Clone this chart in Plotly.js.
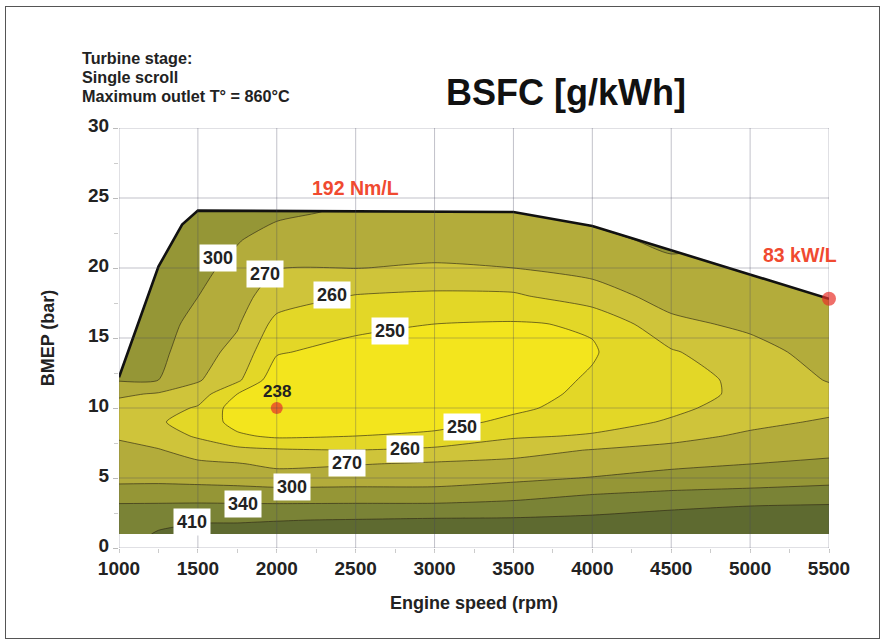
<!DOCTYPE html>
<html><head><meta charset="utf-8">
<script src="https://cdn.plot.ly/plotly-3.0.1.min.js"></script>
<style>
html,body{margin:0;padding:0;background:#fff;}
#chart{position:absolute;left:0;top:0;width:883px;height:643px;}
#frame{position:absolute;left:5px;top:6px;width:873px;height:631px;border:1.5px solid #555;pointer-events:none;}
</style></head><body>
<div id="chart"></div><div id="frame"></div>
<script>
// Engine speed (rpm) columns and BMEP (bar) rows of the BSFC map
const speeds = [1000,1250,1500,1750,2000,2500,3000,3500,4000,4500,5000,5500];
const bmep   = [1,2,3,4,5,6,7,8,9,10,11,12,14,16,18,20,22,24,26];
// BSFC (g/kWh) read along each speed column, bottom to top
const bsfc1000 = [385,370,348,318,290,285,277,269,264,266,275,303,330,340,350,355,360,365,370];
const bsfc1250 = [420,395,350,316,292,280,272,264,261,264,269,300,310,315,320,325,338,345,350];
const bsfc1500 = [440,405,352,315,290,276,265,259,256,259,265,273,282,291,300.5,312,320,335,345];
const bsfc1750 = [445,405,351,313,288,272,262.5,251.5,246,244,250,262,267,273,281,290,303,325,335];
const bsfc2000 = [450,408,350,312,282,268,261,248,241,238,239,242,251,257,265,271,285,310,330];
const bsfc2500 = [465,415,352,311,286,269.5,260,250,244,241,240,241,245,253,259.5,270.5,281,294,308];
const bsfc3000 = [480,425,352,312,285,274,262,252,246,243,242,242,245,250,258,269,283,297,310];
const bsfc3500 = [490,428,360,322,293,276,267,258.5,252,248,246,245,246,249,258.5,270,285,300,315];
const bsfc4000 = [500,440,380,335,302,283,271,261,256,253.5,252,251,249,251,266,278,293,310,320];
const bsfc4500 = [510,455,400,345,315,293,277,267.5,261,258,256.5,256,259,268,280,294,308,320,330];
const bsfc5000 = [520,465,410,352,322,300,284,274,268,264,262,262.5,267,275,283,291,300,310,320];
const bsfc5500 = [530,475,420,365,325,308,292,281,273,268,267,272,280,287,294,300,310,320,330];
const bsfcColumns = [bsfc1000,bsfc1250,bsfc1500,bsfc1750,bsfc2000,bsfc2500,bsfc3000,bsfc3500,bsfc4000,bsfc4500,bsfc5000,bsfc5500];
// contour levels drawn on the map (first and last are band bounds)
const levels = [238,250,260,270,300,340,410,540];
// full-load curve
const fullLoadSpeed = [1000,1250,1400,1500,3500,4000,5500];
const fullLoadBmep  = [12.2,20.1,23.1,24.1,24.0,23.0,17.8];
// highlighted points
const pointSpeed = [2000,5500];
const pointBmep  = [10,17.8];
const minText = '238';
// iso-line labels
const isoText  = ['300','270','260','250','250','260','270','300','340','410'];
const isoSpeed = [1628,1925,2350,2718,3174,2813,2445,2096,1786,1462];
const isoBmep  = [20.7,19.6,18.07,15.5,8.64,7.07,6.07,4.36,3.14,1.86];
const xTicks = [1000,1500,2000,2500,3000,3500,4000,4500,5000,5500];
const yTicks = [0,5,10,15,20,25,30];
const xRange = [1000,5500], yRange = [0,30];

const FONT = 'Liberation Sans, Arial, Helvetica, sans-serif';
function toIndex(v){
  for(let k=0;k<levels.length-1;k++){
    if(v<levels[k+1]) return k + (v-levels[k])/(levels[k+1]-levels[k]);
  }
  return levels.length-1;
}
const z = bmep.map((b,i)=>speeds.map((s,j)=>toIndex(bsfcColumns[j][i])));

const traces = [
  {type:'contour', x:speeds, y:bmep, z:z, autocontour:false,
   contours:{start:1,end:6,size:1,coloring:'fill',showlines:true},
   line:{color:'rgba(45,40,20,0.8)',width:0.8,smoothing:0.6},
   colorscale:[[0,'#f3e51d'],[1/6,'#e3d727'],[2/6,'#cfc43a'],[3/6,'#b3ac3b'],[4/6,'#959636'],[5/6,'#7a8336'],[1,'#5e6a30']],
   showscale:false, hoverinfo:'skip'},
  {type:'scatter', mode:'lines', x:fullLoadSpeed.concat([xRange[1],xRange[0]]),
   y:fullLoadBmep.concat([yRange[1],yRange[1]]), fill:'toself', fillcolor:'#ffffff',
   line:{width:0}, hoverinfo:'skip'},
  {type:'scatter', mode:'lines', x:fullLoadSpeed, y:fullLoadBmep, line:{color:'#111',width:2.6}, hoverinfo:'skip'},
  {type:'scatter', mode:'markers', x:pointSpeed, y:pointBmep, cliponaxis:false,
   marker:{color:'#e8302a',size:[12,14],line:{width:0}}, hoverinfo:'skip'}
];

const shapes = [];
xTicks.forEach(v=>shapes.push({type:'line',layer:'above',xref:'x',yref:'y',x0:v,x1:v,y0:yRange[0],y1:yRange[1],line:{color:'rgba(70,70,95,0.33)',width:1}}));
yTicks.forEach(v=>shapes.push({type:'line',layer:'above',xref:'x',yref:'y',x0:xRange[0],x1:xRange[1],y0:v,y1:v,line:{color:'rgba(70,70,95,0.33)',width:1}}));

const annotations = [];
isoText.forEach((t,i)=>annotations.push({x:isoSpeed[i],y:isoBmep[i],xref:'x',yref:'y',text:t,showarrow:false,
  bgcolor:'#ffffff',borderpad:3,font:{family:FONT,size:18,weight:'bold',color:'#222'}}));
annotations.push({x:pointSpeed[0],y:pointBmep[0],xref:'x',yref:'y',yshift:17,text:minText,showarrow:false,
  font:{family:FONT,size:17,weight:'bold',color:'#222'}});
annotations.push({x:2496,y:25.7,xref:'x',yref:'y',text:'192 Nm/L',showarrow:false,
  font:{family:FONT,size:19.5,weight:'bold',color:'#f04a30'}});
annotations.push({x:5316,y:20.9,xref:'x',yref:'y',text:'83 kW/L',showarrow:false,
  font:{family:FONT,size:19.5,weight:'bold',color:'#f04a30'}});
['Turbine stage:','Single scroll','Maximum outlet T° = 860°C'].forEach((t,i)=>annotations.push({
  xref:'paper',yref:'paper',x:(80-119)/710,xanchor:'left',y:(548-(58+i*19))/420,yanchor:'middle',
  text:t,showarrow:false,font:{family:FONT,size:16.2,weight:'bold',color:'#222'}}));

const layout = {
  width:883,height:643,margin:{l:119,r:54,t:128,b:95},
  paper_bgcolor:'#fff',plot_bgcolor:'#fff',showlegend:false,
  title:{text:'BSFC [g/kWh]',font:{family:FONT,size:36,weight:'bold',color:'#111'},
    xref:'container',yref:'container',x:566/883,xanchor:'center',y:1-92/643,yanchor:'middle'},
  xaxis:{range:xRange,tickvals:xTicks,showgrid:false,zeroline:false,showline:false,
    ticks:'outside',ticklen:1,tickcolor:'#bbb',ticklabelstandoff:2,
    minor:{dtick:250,ticks:'outside',ticklen:4,tickcolor:'#ccc',showgrid:false},
    tickfont:{family:FONT,size:19,weight:'bold',color:'#222'},
    title:{text:'Engine speed (rpm)',standoff:18,font:{family:FONT,size:18,weight:'bold',color:'#222'}}},
  yaxis:{range:yRange,tickvals:yTicks,showgrid:false,zeroline:false,showline:false,
    ticks:'outside',ticklen:5,tickcolor:'#bbb',ticklabelshift:-3,
    minor:{dtick:2.5,ticks:'outside',ticklen:4,tickcolor:'#ccc',showgrid:false},
    tickfont:{family:FONT,size:19,weight:'bold',color:'#222'},
    title:{text:'BMEP (bar)',standoff:28,font:{family:FONT,size:18,weight:'bold',color:'#222'}}},
  shapes:shapes, annotations:annotations
};
Plotly.newPlot('chart',traces,layout,{staticPlot:true});
</script></body></html>
